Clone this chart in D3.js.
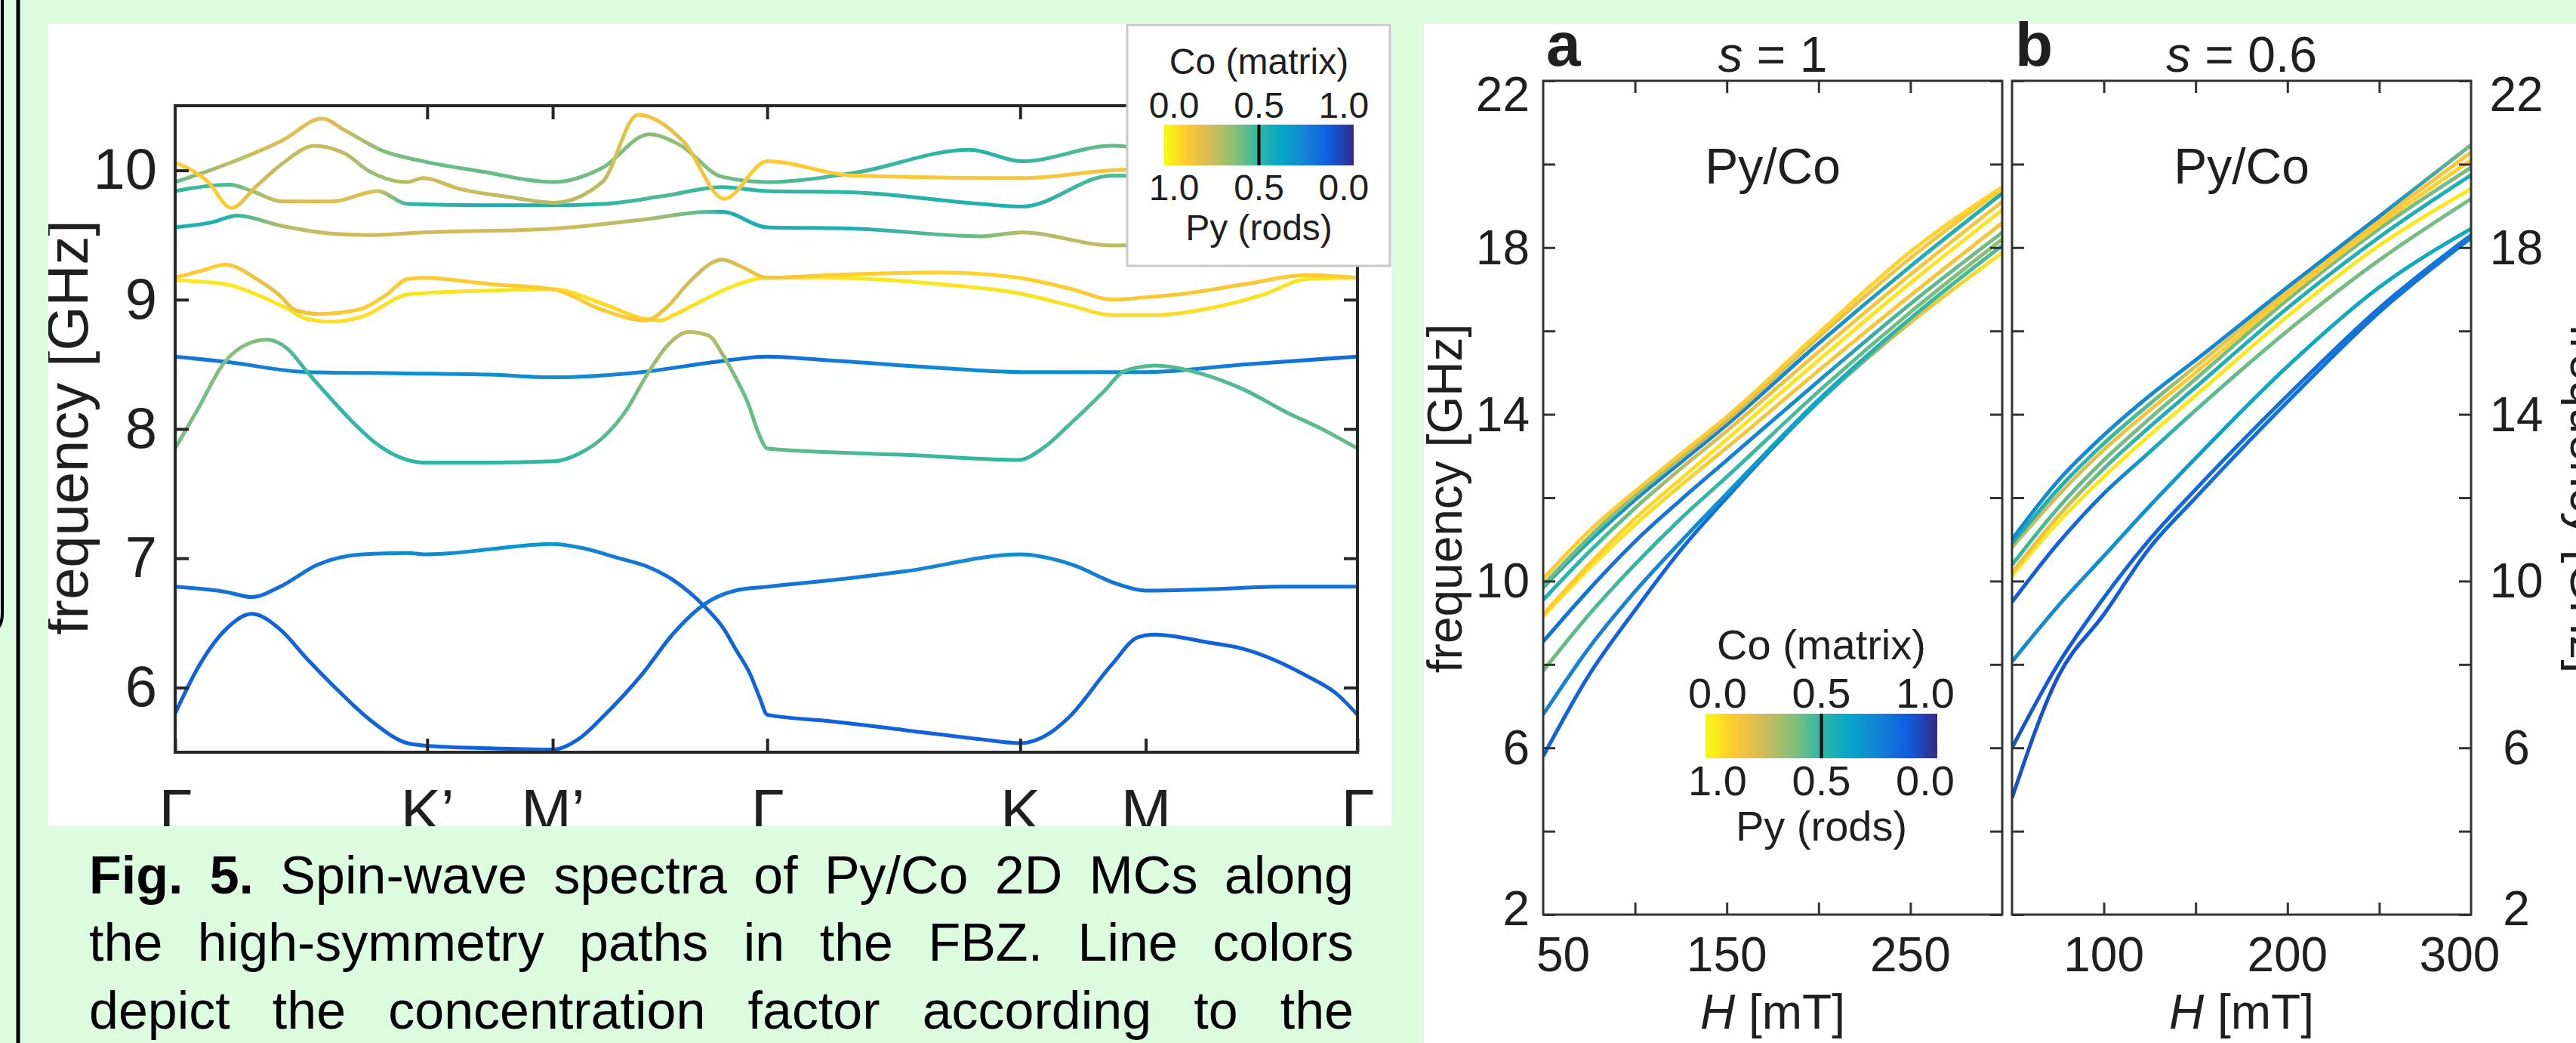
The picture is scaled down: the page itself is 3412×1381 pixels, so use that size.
<!DOCTYPE html>
<html>
<head>
<meta charset="utf-8">
<script src="https://cdn.jsdelivr.net/npm/d3@7"></script>
<style>
html, body { margin: 0; padding: 0; background: #ddfcdf; }
svg { display: block; }
text { font-family: "Liberation Sans", Arial, sans-serif; fill: #1f1f1f; }
</style>
</head>
<body>
<svg id="fig" width="3412" height="1381"></svg>
<script>
// ---- colour map (Co concentration 0 -> 1) ----
const cmapStops = [0, 0.125, 0.25, 0.375, 0.5, 0.625, 0.75, 0.875, 1];
const cmapColors = ["#f9fb0e", "#fec832", "#d1bb59", "#87bf77", "#2eb7a4", "#06a4ca", "#1481d6", "#0f5cdd", "#352a87"];

// ---- left plot: band structure along the path ----
const kNodes = [0, 1.345, 2.015, 3.16, 4.51, 5.18, 6.31];
const kLabels = ["Γ", "K’", "M’", "Γ", "K", "M", "Γ"];
const fTicksLeft = [6, 7, 8, 9, 10];

// each point: [k, frequency GHz, Co concentration]
const bandA = [[0,5.80,.85],[0.12,6.15,.85],[0.27,6.45,.85],[0.41,6.57,.85],[0.56,6.45,.85],[0.705,6.22,.85],[0.84,6.02,.85],[1.04,5.75,.85],[1.24,5.57,.85],[1.345,5.55,.85],[1.68,5.53,.85],[2.015,5.52,.85],[2.17,5.62,.85],[2.28,5.77,.85],[2.49,6.10,.85],[2.66,6.42,.83],[2.83,6.65,.8],[2.99,6.75,.8],[3.16,6.78,.8],[3.50,6.83,.78],[3.90,6.90,.75],[4.51,7.03,.7],[4.79,6.95,.75],[5.03,6.80,.8],[5.18,6.75,.8],[5.51,6.76,.8],[5.91,6.78,.8],[6.31,6.78,.8]];
const bandB = [[0,6.78,.8],[0.27,6.74,.8],[0.41,6.70,.82],[0.56,6.78,.82],[0.76,6.95,.8],[1.0,7.03,.75],[1.24,7.04,.72],[1.345,7.03,.72],[1.48,7.04,.7],[1.68,7.07,.68],[2.015,7.11,.68],[2.17,7.08,.72],[2.37,7.0,.78],[2.53,6.93,.8],[2.66,6.83,.82],[2.83,6.62,.83],[2.93,6.45,.85],[2.99,6.30,.85],[3.07,6.10,.85],[3.12,5.92,.85],[3.16,5.79,.85],[3.50,5.74,.85],[3.90,5.67,.85],[4.30,5.60,.85],[4.51,5.57,.85],[4.67,5.65,.85],[4.77,5.77,.85],[5.00,6.18,.85],[5.14,6.39,.85],[5.23,6.41,.85],[5.51,6.35,.85],[5.70,6.30,.85],[6.04,6.09,.85],[6.20,5.95,.85],[6.31,5.79,.85]];
const bandC = [[0,8.56,.8],[0.27,8.52,.78],[0.705,8.44,.72],[1.24,8.43,.7],[1.68,8.42,.7],[2.015,8.40,.7],[2.49,8.44,.75],[2.89,8.52,.8],[3.16,8.56,.82],[3.50,8.53,.78],[4.10,8.47,.72],[4.51,8.44,.7],[5.18,8.44,.72],[5.71,8.50,.78],[6.31,8.56,.82]];
const bandD = [[0,7.85,.4],[0.12,8.15,.4],[0.26,8.51,.38],[0.39,8.66,.38],[0.49,8.69,.4],[0.60,8.62,.45],[0.705,8.44,.48],[0.84,8.22,.5],[0.95,8.05,.5],[1.08,7.88,.5],[1.20,7.78,.5],[1.325,7.74,.5],[1.68,7.74,.5],[2.02,7.75,.5],[2.17,7.82,.48],[2.28,7.93,.45],[2.41,8.15,.42],[2.51,8.40,.38],[2.63,8.65,.32],[2.74,8.75,.28],[2.85,8.72,.3],[2.92,8.58,.35],[2.99,8.40,.4],[3.06,8.19,.42],[3.11,7.98,.42],[3.16,7.85,.42],[3.50,7.82,.45],[3.90,7.80,.48],[4.50,7.76,.5],[4.63,7.85,.48],[4.77,8.03,.46],[4.95,8.28,.45],[5.07,8.45,.45],[5.23,8.49,.45],[5.47,8.43,.45],[5.71,8.30,.45],[5.93,8.13,.45],[6.12,8.00,.43],[6.31,7.85,.42]];
const bandE = [[0,9.17,.12],[0.13,9.22,.12],[0.27,9.27,.12],[0.435,9.16,.18],[0.56,9.03,.2],[0.64,8.92,.18],[0.77,8.89,.15],[0.97,8.92,.12],[1.12,9.03,.12],[1.24,9.16,.12],[1.325,9.17,.12],[1.68,9.12,.12],[2.02,9.08,.12],[2.28,8.92,.12],[2.51,8.84,.13],[2.63,8.95,.2],[2.74,9.13,.25],[2.92,9.31,.25],[3.03,9.25,.2],[3.16,9.17,.15],[3.50,9.19,.12],[4.08,9.21,.1],[4.50,9.17,.1],[4.79,9.08,.12],[5.00,9.00,.13],[5.19,9.02,.13],[5.35,9.04,.13],[5.71,9.12,.13],[6.04,9.19,.12],[6.31,9.17,.12]];
const bandF = [[0,9.15,.05],[0.27,9.12,.05],[0.435,9.04,.05],[0.60,8.93,.06],[0.705,8.85,.07],[0.84,8.83,.07],[1.0,8.87,.07],[1.24,9.04,.06],[1.325,9.05,.06],[1.68,9.07,.06],[2.02,9.08,.06],[2.28,8.97,.08],[2.51,8.85,.1],[2.59,8.84,.1],[2.66,8.88,.08],[2.81,8.99,.06],[2.97,9.10,.05],[3.16,9.17,.05],[3.50,9.17,.05],[4.08,9.12,.05],[4.50,9.05,.06],[4.79,8.95,.07],[5.00,8.88,.08],[5.23,8.88,.08],[5.51,8.93,.07],[5.81,9.04,.06],[6.04,9.16,.05],[6.31,9.17,.05]];
const bandU1 = [[0,9.91,.42],[0.26,10.04,.3],[0.57,10.23,.22],[0.785,10.40,.2],[0.905,10.31,.25],[1.11,10.15,.38],[1.325,10.07,.42],[1.64,9.99,.42],[2.02,9.91,.42],[2.28,10.02,.4],[2.53,10.28,.38],[2.69,10.20,.35],[2.92,9.95,.4],[3.16,9.91,.45],[3.62,9.98,.48],[4.24,10.16,.52],[4.52,10.07,.5],[5.00,10.19,.42],[5.50,10.05,.45],[6.31,9.91,.45]];
const bandU2 = [[0,10.06,.12],[0.17,9.92,.12],[0.30,9.71,.12],[0.435,9.88,.25],[0.57,10.05,.28],[0.745,10.19,.25],[0.905,10.13,.28],[1.04,9.99,.35],[1.24,9.91,.3],[1.325,9.94,.25],[1.51,9.86,.25],[1.80,9.79,.28],[2.02,9.75,.3],[2.28,9.91,.28],[2.47,10.43,.15],[2.715,10.22,.2],[2.93,9.78,.12],[3.16,10.07,.12],[3.62,9.96,.12],[4.52,9.94,.15],[5.00,10.0,.15],[6.31,10.06,.12]];
const bandU3 = [[0,9.84,.5],[0.29,9.89,.45],[0.41,9.84,.35],[0.57,9.76,.25],[0.84,9.76,.22],[1.08,9.84,.22],[1.24,9.74,.5],[1.64,9.73,.55],[2.02,9.73,.55],[2.28,9.74,.5],[2.6,9.80,.45],[2.92,9.87,.5],[3.16,9.84,.5],[3.62,9.83,.5],[4.30,9.74,.55],[4.52,9.72,.55],[5.0,9.96,.45],[6.31,9.84,.5]];
const bandU4 = [[0,9.56,.55],[0.2,9.60,.55],[0.33,9.65,.5],[0.57,9.57,.3],[0.84,9.51,.25],[1.04,9.50,.25],[1.325,9.52,.25],[2.02,9.55,.25],[2.5,9.62,.3],[2.85,9.68,.45],[2.92,9.68,.55],[3.16,9.56,.55],[3.62,9.55,.55],[4.30,9.49,.4],[4.52,9.52,.3],[5.0,9.42,.28],[6.31,9.56,.55]];
const bands = [bandA, bandB, bandC, bandD, bandF, bandE, bandU4, bandU3, bandU1, bandU2];

// ---- right plots: frequency vs field ----
const fieldH = [50, 75, 100, 125, 150, 200, 250, 300];
const fTicksRight = [2, 4, 6, 8, 10, 12, 14, 16, 18, 20, 22];
const fLabelsRight = [2, 6, 10, 14, 18, 22];
const hTicks = [100, 150, 200, 250];
const hLabelsA = [50, 150, 250];
const hLabelsB = [100, 200, 300];

// s = 1
const freqA = [
  [5.80, 7.75, 9.30, 10.75, 12.00, 14.30, 16.20, 17.87],
  [6.80, 8.40, 9.75, 10.95, 12.10, 14.35, 16.30, 18.05],
  [7.85, 9.20, 10.40, 11.50, 12.50, 14.55, 16.45, 18.20],
  [8.55, 9.80, 10.95, 11.95, 12.90, 14.80, 16.65, 18.36],
  [9.15, 10.30, 11.35, 12.30, 13.20, 15.05, 16.85, 18.59],
  [9.20, 10.40, 11.50, 12.45, 13.40, 15.30, 17.15, 18.90],
  [9.55, 10.70, 11.75, 12.70, 13.60, 15.50, 17.35, 19.10],
  [9.85, 10.95, 11.95, 12.85, 13.75, 15.70, 17.55, 19.30],
  [9.90, 11.05, 12.05, 12.95, 13.85, 15.85, 17.75, 19.41],
  [10.05, 11.20, 12.15, 13.05, 13.94, 15.95, 17.90, 19.45]
];
const coA = [
  [.85,.85,.85,.85,.8,.6,.2,.05],
  [.75,.75,.75,.72,.68,.6,.5,.45],
  [.4,.45,.5,.5,.5,.45,.4,.35],
  [.8,.8,.8,.78,.75,.7,.45,.4],
  [.05,.05,.06,.1,.15,.15,.15,.15],
  [.12,.12,.1,.08,.06,.06,.06,.06],
  [.55,.5,.4,.3,.2,.15,.15,.15],
  [.5,.6,.7,.75,.75,.72,.55,.55],
  [.42,.4,.35,.3,.25,.2,.15,.12],
  [.12,.12,.12,.12,.12,.1,.1,.1]
];
// s = 0.6
const freqB = [
  [4.80, 7.70, 9.20, 10.80, 12.00, 14.30, 16.45, 18.23],
  [6.00, 8.00, 9.60, 11.00, 12.20, 14.45, 16.55, 18.30],
  [8.07, 9.40, 10.60, 11.80, 12.95, 15.15, 17.05, 18.45],
  [9.50, 10.90, 12.10, 13.10, 14.10, 16.00, 17.70, 19.17],
  [10.13, 11.40, 12.50, 13.50, 14.45, 16.35, 18.05, 19.41],
  [10.20, 11.55, 12.70, 13.70, 14.65, 16.55, 18.25, 19.74],
  [10.39, 11.75, 12.90, 13.90, 14.85, 16.75, 18.45, 19.92],
  [10.81, 12.05, 13.15, 14.10, 15.00, 16.85, 18.55, 20.10],
  [10.90, 12.20, 13.30, 14.25, 15.15, 16.95, 18.65, 20.28],
  [11.00, 12.40, 13.50, 14.45, 15.30, 17.05, 18.75, 20.46]
];
const coB = [
  [.9,.9,.88,.85,.82,.8,.8,.78],
  [.9,.88,.85,.85,.82,.8,.8,.78],
  [.72,.72,.7,.7,.65,.6,.6,.6],
  [.88,.85,.8,.6,.45,.4,.4,.4],
  [.05,.05,.05,.05,.05,.05,.05,.05],
  [.15,.2,.45,.55,.55,.55,.55,.55],
  [.5,.45,.4,.4,.4,.4,.4,.4],
  [.3,.25,.2,.15,.12,.12,.12,.1],
  [.55,.55,.5,.45,.2,.15,.15,.15],
  [.72,.72,.72,.72,.72,.72,.72,.4]
];

const captionLines = [
  ["Fig.", "5.", "Spin-wave", "spectra", "of", "Py/Co", "2D", "MCs", "along"],
  ["the", "high-symmetry", "paths", "in", "the", "FBZ.", "Line", "colors"],
  ["depict", "the", "concentration", "factor", "according", "to", "the"]
];

// ------------------------------------------------------------------
const svg = d3.select("#fig");
const defs = svg.append("defs");
const colour = d3.scaleLinear().domain(cmapStops).range(cmapColors);
const axisColor = "#262626";

svg.append("rect").attr("width", 3412).attr("height", 1381).attr("fill", "#ddfcdf");

// left page rules
svg.append("line").attr("x1", 24).attr("x2", 24).attr("y1", 0).attr("y2", 1381)
  .attr("stroke", "#000").attr("stroke-width", 5);
svg.append("path").attr("d", "M3,0 V812 Q3,834 -12,834")
  .attr("fill", "none").attr("stroke", "#000").attr("stroke-width", 4);

// white panels
svg.append("rect").attr("x", 64).attr("y", 32).attr("width", 1779).attr("height", 1062).attr("fill", "#fff");
svg.append("rect").attr("x", 1886).attr("y", 32).attr("width", 1526).attr("height", 1349).attr("fill", "#fff");

defs.append("clipPath").attr("id", "leftPanel").append("rect")
  .attr("x", 64).attr("y", 32).attr("width", 1779).attr("height", 1062);

// ---------------- left plot ----------------
const xK = d3.scaleLinear().domain([0, 6.31]).range([232, 1798]);
const yF = d3.scaleLinear().domain([5.5, 10.5]).range([996, 140]);
const left = svg.append("g").attr("clip-path", "url(#leftPanel)");

defs.append("clipPath").attr("id", "leftPlot").append("rect")
  .attr("x", xK(0)).attr("y", yF(10.5)).attr("width", xK(6.31) - xK(0)).attr("height", yF(5.5) - yF(10.5));

function gradient(id, pts, x, xAcc, cAcc) {
  const x0 = x.range()[0], x1 = x.range()[1];
  const g = defs.append("linearGradient").attr("id", id)
    .attr("gradientUnits", "userSpaceOnUse")
    .attr("x1", x0).attr("x2", x1).attr("y1", 0).attr("y2", 0);
  pts.forEach(p => {
    g.append("stop").attr("offset", (x(xAcc(p)) - x0) / (x1 - x0)).attr("stop-color", colour(cAcc(p)));
  });
}

const bandLine = d3.line().x(p => xK(p[0])).y(p => yF(p[1])).curve(d3.curveMonotoneX);
const bandG = left.append("g").attr("clip-path", "url(#leftPlot)");
bands.forEach((b, i) => {
  gradient("band" + i, b, xK, p => p[0], p => p[2]);
  bandG.append("path").attr("d", bandLine(b))
    .attr("fill", "none").attr("stroke", `url(#band${i})`)
    .attr("stroke-width", 5).attr("stroke-linejoin", "round");
});

function styleAxis(g, size) {
  g.select(".domain").remove();
  g.selectAll(".tick line").attr("stroke", axisColor).attr("stroke-width", 4);
  g.selectAll(".tick text").attr("font-size", size).attr("fill", axisColor)
    .attr("font-family", "Liberation Sans, Arial, sans-serif");
}

left.append("g").attr("transform", `translate(${xK(0)},0)`)
  .call(d3.axisLeft(yF).tickValues(fTicksLeft).tickSize(-18).tickPadding(24).tickFormat(d3.format("d")))
  .call(g => styleAxis(g, 76));
left.append("g").attr("transform", `translate(${xK(6.31)},0)`)
  .call(d3.axisRight(yF).tickValues(fTicksLeft).tickSize(-18).tickFormat(""))
  .call(g => styleAxis(g, 76));
left.append("g").attr("transform", `translate(0,${yF(10.5)})`)
  .call(d3.axisTop(xK).tickValues(kNodes.slice(1, -1)).tickSize(-18).tickFormat(""))
  .call(g => styleAxis(g, 76));
const bottom = left.append("g").attr("transform", `translate(0,${yF(5.5)})`)
  .call(d3.axisBottom(xK).tickValues(kNodes).tickSize(-18).tickPadding(48).tickFormat((d, i) => kLabels[i]))
  .call(g => styleAxis(g, 80));
bottom.selectAll(".tick text").filter((d, i) => kLabels[i] === "Γ")
  .attr("font-family", "Liberation Serif, Times New Roman, serif");

left.append("rect").attr("x", xK(0)).attr("y", yF(10.5))
  .attr("width", xK(6.31) - xK(0)).attr("height", yF(5.5) - yF(10.5))
  .attr("fill", "none").attr("stroke", axisColor).attr("stroke-width", 4);

left.append("text").attr("transform", "translate(116,566) rotate(-90)")
  .attr("text-anchor", "middle").attr("font-size", 76).attr("fill", axisColor)
  .text("frequency [GHz]");

// colour bar with its labels
function colourBar(g, x0, x1, y0, y1, fs, topY, lblTop, lblBot, botY) {
  const cb = d3.scaleLinear().domain([0, 1]).range([x0, x1]);
  const id = "cb" + Math.round(x0);
  const lg = defs.append("linearGradient").attr("id", id);
  cmapStops.forEach((s, i) => lg.append("stop").attr("offset", s).attr("stop-color", cmapColors[i]));
  g.append("rect").attr("x", x0).attr("y", y0).attr("width", x1 - x0).attr("height", y1 - y0).attr("fill", `url(#${id})`);
  g.append("line").attr("x1", cb(0.5)).attr("x2", cb(0.5)).attr("y1", y0).attr("y2", y1)
    .attr("stroke", "#000").attr("stroke-width", 4);
  const inset = (x1 - x0) * 0.052;
  const lx = v => cb(v) + (v === 0 ? inset : v === 1 ? -inset : 0);
  [0, 0.5, 1].forEach(v => {
    g.append("text").attr("x", lx(v)).attr("y", lblTop).attr("text-anchor", "middle")
      .attr("font-size", fs).attr("fill", axisColor).text(v.toFixed(1));
    g.append("text").attr("x", lx(v)).attr("y", lblBot).attr("text-anchor", "middle")
      .attr("font-size", fs).attr("fill", axisColor).text((1 - v).toFixed(1));
  });
  g.append("text").attr("x", cb(0.5)).attr("y", topY).attr("text-anchor", "middle")
    .attr("font-size", fs).attr("fill", axisColor).text("Co (matrix)");
  g.append("text").attr("x", cb(0.5)).attr("y", botY).attr("text-anchor", "middle")
    .attr("font-size", fs).attr("fill", axisColor).text("Py (rods)");
}
const legend = left.append("g");
legend.append("rect").attr("x", 1493).attr("y", 33).attr("width", 348).attr("height", 319)
  .attr("fill", "#fff").attr("stroke", "#c9c9c9").attr("stroke-width", 3);
colourBar(legend, 1542, 1793, 165, 219, 48, 98, 156, 265, 318);

// caption (justified)
const capX0 = 118, capX1 = 1793, capY = [1183, 1272, 1362];
captionLines.forEach((words, li) => {
  const t = svg.append("text").attr("font-size", 70).attr("fill", "#000");
  const spans = words.map((w, wi) => t.append("tspan").text(w)
    .attr("font-weight", li === 0 && wi < 2 ? "bold" : null).attr("fill", "#000"));
  const widths = spans.map(s => s.node().getComputedTextLength());
  const gap = (capX1 - capX0 - d3.sum(widths)) / (words.length - 1);
  let x = capX0;
  spans.forEach((s, i) => { s.attr("x", x).attr("y", capY[li]); x += widths[i] + gap; });
});

// ---------------- right plots ----------------
const yG = d3.scaleLinear().domain([2, 22]).range([1211, 107]);
const panels = [
  { x: d3.scaleLinear().domain([50, 300]).range([2044, 2652]), freq: freqA, co: coA, id: "a", title: "1", hl: hLabelsA },
  { x: d3.scaleLinear().domain([50, 300]).range([2665, 3273]), freq: freqB, co: coB, id: "b", title: "0.6", hl: hLabelsB }
];

panels.forEach((p, pi) => {
  const g = svg.append("g");
  const x0 = p.x.range()[0], x1 = p.x.range()[1];
  defs.append("clipPath").attr("id", "clip" + p.id).append("rect")
    .attr("x", x0).attr("y", yG(22)).attr("width", x1 - x0).attr("height", yG(2) - yG(22));
  const lg = g.append("g").attr("clip-path", `url(#clip${p.id})`);
  const line = d3.line().x((d, i) => p.x(fieldH[i])).y(d => yG(d)).curve(d3.curveMonotoneX);
  p.freq.forEach((f, li) => {
    const id = `fl${p.id}${li}`;
    gradient(id, fieldH.map((h, i) => [h, p.co[li][i]]), p.x, d => d[0], d => d[1]);
    lg.append("path").attr("d", line(f)).attr("fill", "none")
      .attr("stroke", `url(#${id})`).attr("stroke-width", 5);
  });

  const tickStyle = a => a.call(s => {
    s.select(".domain").remove();
    s.selectAll(".tick line").attr("stroke", "#333").attr("stroke-width", 3);
  });
  g.append("g").attr("transform", `translate(${x0},0)`)
    .call(d3.axisLeft(yG).tickValues(fTicksRight).tickSize(-16).tickFormat("")).call(tickStyle);
  g.append("g").attr("transform", `translate(${x1},0)`)
    .call(d3.axisRight(yG).tickValues(fTicksRight).tickSize(-16).tickFormat("")).call(tickStyle);
  g.append("g").attr("transform", `translate(0,${yG(22)})`)
    .call(d3.axisTop(p.x).tickValues(hTicks).tickSize(-16).tickFormat("")).call(tickStyle);
  g.append("g").attr("transform", `translate(0,${yG(2)})`)
    .call(d3.axisBottom(p.x).tickValues(hTicks).tickSize(-16).tickFormat("")).call(tickStyle);
  g.append("rect").attr("x", x0).attr("y", yG(22)).attr("width", x1 - x0).attr("height", yG(2) - yG(22))
    .attr("fill", "none").attr("stroke", "#333").attr("stroke-width", 3);

  // y labels
  fLabelsRight.forEach(v => {
    const dy = v === 22 ? 40 : v === 2 ? 14 : 22;
    g.append("text").attr("font-size", 64).attr("fill", axisColor)
      .attr("x", pi === 0 ? x0 - 18 : x1 + 60)
      .attr("y", yG(v) + dy)
      .attr("text-anchor", pi === 0 ? "end" : "middle").text(v);
  });
  // x labels
  p.hl.forEach(v => {
    let xx = p.x(v), anchor = "middle";
    if (v === 50) { xx = p.x(v) - 9; anchor = "start"; }
    if (v === 300) { xx = p.x(v) - 15; }
    g.append("text").attr("font-size", 64).attr("fill", "#000")
      .attr("x", xx).attr("y", 1286).attr("text-anchor", anchor).text(v);
  });
  const cx = (x0 + x1) / 2;
  const ht = g.append("text").attr("x", cx).attr("y", 1362).attr("text-anchor", "middle")
    .attr("font-size", 64).attr("fill", "#000");
  ht.append("tspan").attr("font-style", "italic").text("H");
  ht.append("tspan").text(" [mT]");

  const st = g.append("text").attr("x", cx).attr("y", 95).attr("text-anchor", "middle")
    .attr("font-size", 66).attr("fill", axisColor);
  st.append("tspan").attr("font-style", "italic").text("s");
  st.append("tspan").text(" = " + p.title);
  g.append("text").attr("x", x0 + 4).attr("y", 87).attr("font-size", 82).attr("font-weight", "bold")
    .attr("fill", axisColor).text(p.id);
  g.append("text").attr("x", cx).attr("y", 243).attr("text-anchor", "middle")
    .attr("font-size", 66).attr("fill", axisColor).text("Py/Co");
});

svg.append("text").attr("transform", "translate(1936,660) rotate(-90)").attr("text-anchor", "middle")
  .attr("font-size", 64).attr("fill", axisColor).text("frequency [GHz]");
// right-hand label runs off the page edge, as in the original slide
svg.append("text").attr("transform", "translate(3405,660) rotate(90)").attr("text-anchor", "middle")
  .attr("font-size", 64).attr("fill", axisColor).text("frequency [GHz]");

colourBar(svg.append("g"), 2259, 2566, 945, 1004, 56, 873, 937, 1053, 1113);
</script>
</body>
</html>
